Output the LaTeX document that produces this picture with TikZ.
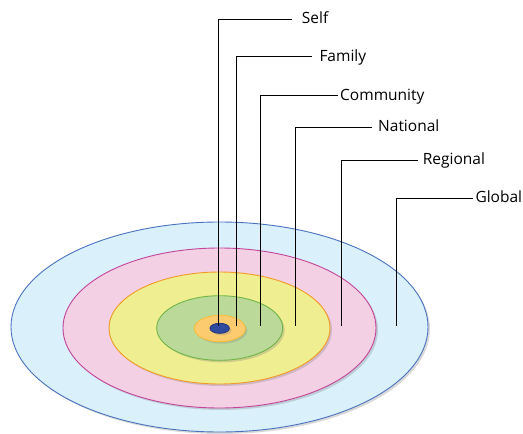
\documentclass[tikz,border=0pt]{standalone}
\usepackage{fontspec}
\setmainfont{Open Sans}
\usetikzlibrary{shadows}

\definecolor{globalfill}{HTML}{DAF0FB}
\definecolor{globalline}{HTML}{4A72BE}
\definecolor{regionfill}{HTML}{F3D0E3}
\definecolor{regionline}{HTML}{C3459A}
\definecolor{nationfill}{HTML}{EFEE91}
\definecolor{nationline}{HTML}{F29A26}
\definecolor{commfill}{HTML}{BBDA9A}
\definecolor{commline}{HTML}{70B545}
\definecolor{famfill}{HTML}{FDCB6F}
\definecolor{famline}{HTML}{F7BE3A}
\definecolor{selffill}{HTML}{2F4A9F}
\definecolor{selfline}{HTML}{24397E}

\tikzset{
  ring/.style={line width=0.9pt, drop shadow={shadow xshift=2pt, shadow yshift=-2pt, opacity=0.3}},
  lbl/.style={anchor=west, inner ysep=0pt, text height=8.6pt, text depth=0pt,
              font=\fontsize{15.5}{19}\selectfont},
  leader/.style={line width=0.9pt, black}
}

\begin{document}
\begin{tikzpicture}[x=1pt, y=-1pt]
            \useasboundingbox (0,0) rectangle (523,434);

            % 同心椭圆 (由外到内)
            \draw[ring, fill=globalfill, draw=globalline] (219.5,327) ellipse (208.5 and 105);
            \draw[ring, fill=regionfill, draw=regionline] (219.5,328) ellipse (156.5 and 80);
            \draw[ring, fill=nationfill, draw=nationline] (219.5,328) ellipse (110.5 and 56);
            \draw[ring, fill=commfill, draw=commline] (219.7,328) ellipse (63 and 32.3);
            \draw[ring, fill=famfill, draw=famline] (219.8,328.5) ellipse (25.5 and 13.2);
            \draw[ring, fill=selffill, draw=selfline] (219.7,328.3) ellipse (9.7 and 5);

            % 引线起点
            \coordinate (pself) at (218.3,325.5);
            \coordinate (pfam) at (236,325.7);
            \coordinate (pcomm) at (260.7,325.7);
            \coordinate (pnat) at (295.6,325.7);
            \coordinate (preg) at (341.5,325.7);
            \coordinate (pglob) at (396,325.7);

            % 标签
            \node[lbl, inner xsep=10pt] (lself) at (291.7,19) {Self};
            \node[lbl, inner xsep=7.6pt] (lfam) at (311.7,56.7) {Family};
            \node[lbl, inner xsep=2.3pt] (lcomm) at (337.7,95.7) {Community};
            \node[lbl, inner xsep=6.3pt] (lnat) at (371.7,127) {National};
            \node[lbl, inner xsep=4.4pt] (lreg) at (418.3,160.3) {Regional};
            \node[lbl, inner xsep=2pt] (lglob) at (473.3,198.3) {Global};

            % 引线
            \draw[leader] (pself) |- (lself.west);
            \draw[leader] (pfam) |- (lfam.west);
            \draw[leader] (pcomm) |- (lcomm.west);
            \draw[leader] (pnat) |- (lnat.west);
            \draw[leader] (preg) |- (lreg.west);
            \draw[leader] (pglob) |- (lglob.west);

\end{tikzpicture}
\end{document}
